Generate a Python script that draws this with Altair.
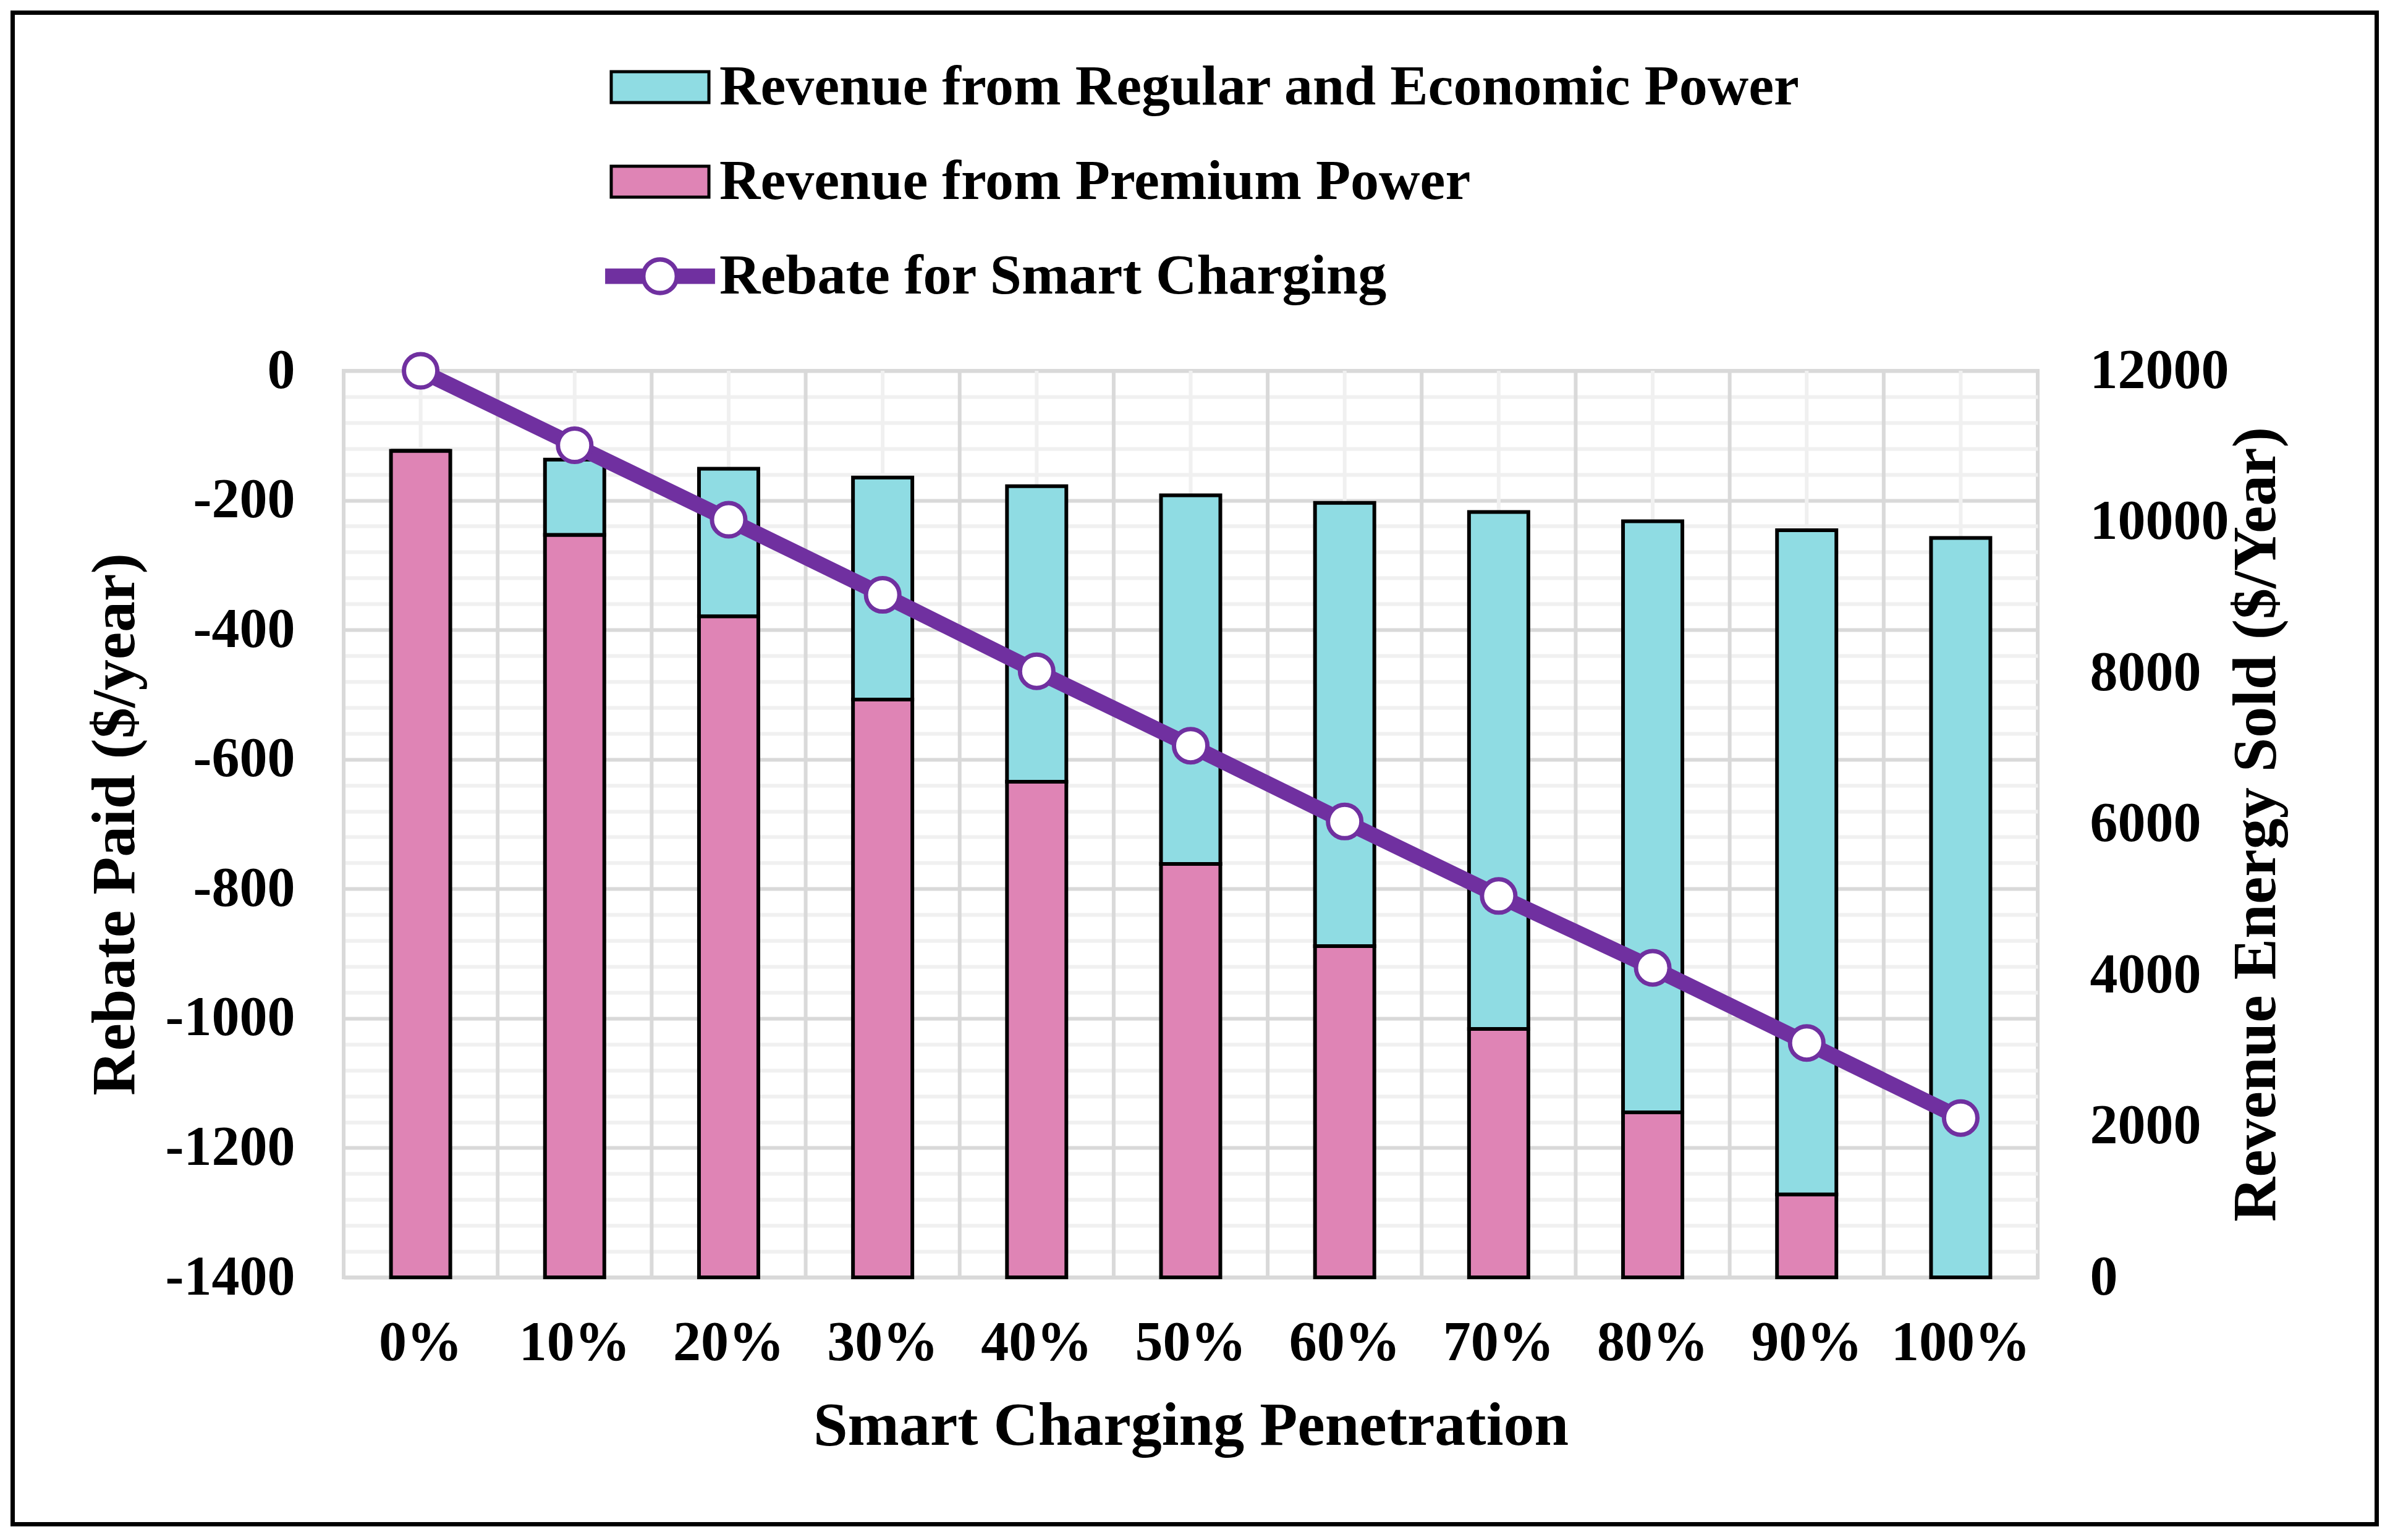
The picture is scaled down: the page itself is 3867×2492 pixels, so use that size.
import altair as alt
import pandas as pd

# ---------------- data ----------------
categories = ["0%", "10%", "20%", "30%", "40%", "50%", "60%", "70%", "80%", "90%", "100%"]
premium = [10941, 9828, 8750, 7648, 6560, 5472, 4384, 3288, 2184, 1099, 0]
regular = [0, 996, 1954, 2939, 3913, 4880, 5867, 6842, 7825, 8790, 9787]
rebate = [0, -115, -230, -346, -464, -579, -696, -811, -922, -1038, -1154]

series_names = [
    "Revenue from Regular and Economic Power",
    "Revenue from Premium Power",
    "Rebate for Smart Charging",
]
left_ticks = list(range(-1400, 1, 40))
right_ticks = [0, 2000, 4000, 6000, 8000, 10000, 12000]

# ---------------- styles ----------------
FONT = "Liberation Serif"
PURPLE = "#7030A0"
CYAN = "#8FDCE3"
PINK = "#DF84B5"
GRID_MAJOR = "#D9D9D9"
GRID_MINOR = "#F0F0F0"

W, H = 2741, 1467

bar_rows = []
for c, p, r in zip(categories, premium, regular):
    bar_rows.append({"cat": c, "series": series_names[1], "value": p, "ord": 0})
    bar_rows.append({"cat": c, "series": series_names[0], "value": r, "ord": 1})
bar_df = pd.DataFrame(bar_rows)
line_df = pd.DataFrame({"cat": categories, "rebate": rebate})
cat_df = pd.DataFrame({"cat": categories})
legend_df = pd.DataFrame({"cat": [categories[0]] * 3, "rebate": [0, 0, 0], "series": series_names})
frame_df = pd.DataFrame({"a": [0]})

x_scale = alt.Scale(domain=categories, paddingInner=0, paddingOuter=0)
x_axis = alt.Axis(
    labelAngle=0, ticks=False, domain=False, grid=False,
    labelFontSize=90, labelPadding=62,
    title="Smart Charging Penetration", titleFontSize=100, titlePadding=40,
)


def xenc(bp=0.5):
    return alt.X("cat:N", scale=x_scale, axis=x_axis, sort=categories, bandPosition=bp)


left_scale = alt.Scale(domain=[-1400, 0], nice=False, zero=False)
left_axis = alt.Axis(
    orient="left", values=left_ticks,
    labelExpr="datum.value % 200 === 0 ? '' + datum.value : ''",
    grid=True,
    gridColor={"condition": {"test": "datum.value % 200 === 0", "value": GRID_MAJOR}, "value": GRID_MINOR},
    gridWidth=6, ticks=False, domain=False,
    labelFontSize=90, labelPadding=79, labelFlush=False, labelOverlap=False,
    title="Rebate Paid ($/year)", titleFontSize=100, titlePadding=119,
)
right_scale = alt.Scale(domain=[0, 12000], nice=False, zero=True)
right_axis = alt.Axis(
    orient="right", values=right_ticks, format="d", grid=False, ticks=False, domain=False,
    labelFontSize=90, labelPadding=84, labelFlush=False, labelOverlap=False,
    title="Revenue Energy Sold ($/Year)", titleFontSize=100, titlePadding=104,
    titleAngle=270, titleBaseline="top",
)

frame = alt.Chart(frame_df).mark_rect(filled=False, stroke="black", strokeWidth=7, fillOpacity=0).encode(
    x=alt.value(-535.5), x2=alt.value(3289.5), y=alt.value(-579.5), y2=alt.value(1866.5)
)

center_rules = alt.Chart(cat_df).mark_rule(color=GRID_MINOR, strokeWidth=6).encode(x=xenc(0.5))
bound_rules = alt.Chart(cat_df).mark_rule(color=GRID_MAJOR, strokeWidth=6).encode(x=xenc(0))

bars = alt.Chart(bar_df).mark_bar(width=96, stroke="black", strokeWidth=6).encode(
    x=xenc(),
    y=alt.Y("value:Q", stack="zero", scale=right_scale, axis=right_axis),
    color=alt.Color("series:N", scale=alt.Scale(domain=[series_names[0], series_names[1]], range=[CYAN, PINK]), legend=None),
    order=alt.Order("ord:Q"),
)

line = alt.Chart(line_df).mark_line(color=PURPLE, strokeWidth=25).encode(
    x=xenc(), y=alt.Y("rebate:Q", scale=left_scale, axis=left_axis)
)
points = alt.Chart(line_df).mark_point(
    shape="circle", filled=True, fill="white", stroke=PURPLE, strokeWidth=7, size=2922, opacity=1
).encode(x=xenc(), y=alt.Y("rebate:Q", scale=left_scale, axis=left_axis))

swatch = "M-0.878,-0.278H0.878V0.278H-0.878Z"
line_sym = (
    "M-0.96,-0.11L-0.296,-0.11A0.317,0.317 0 0 1 0.296,-0.11L0.96,-0.11L0.96,0.11"
    "L0.296,0.11A0.317,0.317 0 0 1 -0.296,0.11L-0.96,0.11Z"
    "M0.29,0A0.29,0.29 0 1 0 -0.29,0A0.29,0.29 0 1 0 0.29,0Z"
)
leg = alt.Legend(
    orient="none", legendX=419.5, legendY=-551.5, title=None, direction="vertical",
    labelFont=FONT, labelFontSize=92, labelFontWeight="bold", labelColor="black",
    labelLimit=0, labelOffset=3.5, symbolSize=32400, symbolStrokeWidth=5, symbolOpacity=1,
    rowPadding=14, padding=0,
)
legend_layer = alt.Chart(legend_df).mark_point(opacity=0, filled=True, size=32400, strokeWidth=5).encode(
    x=xenc(), y=alt.Y("rebate:Q", scale=left_scale, axis=left_axis),
    fill=alt.Fill("series:N", scale=alt.Scale(domain=series_names, range=[CYAN, PINK, PURPLE]), legend=leg),
    stroke=alt.Stroke("series:N", scale=alt.Scale(domain=series_names, range=["black", "black", PURPLE]), legend=leg),
    shape=alt.Shape("series:N", scale=alt.Scale(domain=series_names, range=[swatch, swatch, line_sym]), legend=leg),
)

left_layer = alt.layer(line, points, legend_layer)

chart = alt.layer(frame, center_rules, bound_rules, bars, left_layer).resolve_scale(
    y="independent"
).properties(
    width=W, height=H,
    padding={"left": 548, "top": 592, "right": 556, "bottom": 408},
    autosize=alt.AutoSizeParams(type="none"),
).configure_view(
    stroke=GRID_MAJOR, strokeWidth=6
).configure_axis(
    labelFont=FONT, titleFont=FONT, labelFontWeight="bold", titleFontWeight="bold",
    labelColor="black", titleColor="black", labelLimit=0,
)

chart.save("out.html", embed_options={"renderer": "svg", "actions": False})
